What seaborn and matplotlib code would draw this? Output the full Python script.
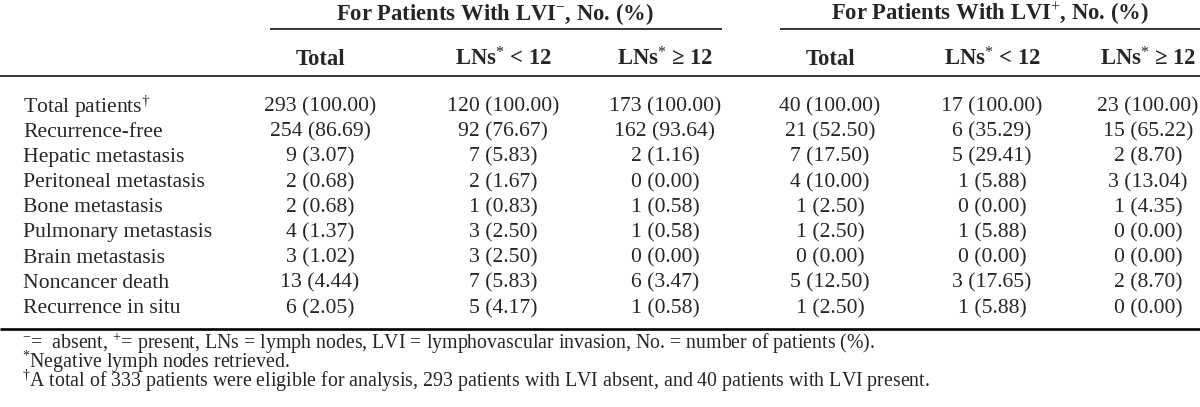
import matplotlib.pyplot as plt
import seaborn as sns

sns.set_theme(style="white")
plt.rcParams["font.family"] = ["Liberation Serif", "DejaVu Serif"]
plt.rcParams["mathtext.fontset"] = "custom"
plt.rcParams["mathtext.rm"] = "Liberation Serif"
plt.rcParams["mathtext.it"] = "Liberation Serif"
plt.rcParams["mathtext.bf"] = "Liberation Serif:bold"

# Table content ---------------------------------------------------------------
outcomes = [
    "Total patients$^{\\dagger}$",
    "Recurrence-free",
    "Hepatic metastasis",
    "Peritoneal metastasis",
    "Bone metastasis",
    "Pulmonary metastasis",
    "Brain metastasis",
    "Noncancer death",
    "Recurrence in situ",
]
group_labels = ["For Patients With LVI$^{-}$, No. (%)", "For Patients With LVI$^{+}$, No. (%)"]
col_labels = ["Total", "LNs$^{*}$ < 12", "LNs$^{*}$ \u2265 12"] * 2

neg_total_n = [293, 254, 9, 2, 2, 4, 3, 13, 6]
neg_total_pct = ["100.00", "86.69", "3.07", "0.68", "0.68", "1.37", "1.02", "4.44", "2.05"]
neg_lt12_n = [120, 92, 7, 2, 1, 3, 3, 7, 5]
neg_lt12_pct = ["100.00", "76.67", "5.83", "1.67", "0.83", "2.50", "2.50", "5.83", "4.17"]
neg_ge12_n = [173, 162, 2, 0, 1, 1, 0, 6, 1]
neg_ge12_pct = ["100.00", "93.64", "1.16", "0.00", "0.58", "0.58", "0.00", "3.47", "0.58"]
pos_total_n = [40, 21, 7, 4, 1, 1, 0, 5, 1]
pos_total_pct = ["100.00", "52.50", "17.50", "10.00", "2.50", "2.50", "0.00", "12.50", "2.50"]
pos_lt12_n = [17, 6, 5, 1, 0, 1, 0, 3, 1]
pos_lt12_pct = ["100.00", "35.29", "29.41", "5.88", "0.00", "5.88", "0.00", "17.65", "5.88"]
pos_ge12_n = [23, 15, 2, 3, 1, 0, 0, 2, 0]
pos_ge12_pct = ["100.00", "65.22", "8.70", "13.04", "4.35", "0.00", "0.00", "8.70", "0.00"]

footnotes = [
    "$^{-}$=  absent, $^{+}$= present, LNs = lymph nodes, LVI = lymphovascular invasion, No. = number of patients (%).",
    "$^{*}$Negative lymph nodes retrieved.",
    "$^{\\dagger}$A total of 333 patients were eligible for analysis, 293 patients with LVI absent, and 40 patients with LVI present.",
]

columns = [
    (neg_total_n, neg_total_pct),
    (neg_lt12_n, neg_lt12_pct),
    (neg_ge12_n, neg_ge12_pct),
    (pos_total_n, pos_total_pct),
    (pos_lt12_n, pos_lt12_pct),
    (pos_ge12_n, pos_ge12_pct),
]

# Layout (pixel coordinates, y downwards, text placed on baselines) -------------
W, H = 1200, 407
col_x = [320, 503, 665, 830, 992, 1148]
group_x = [495, 990]
group_span = [(270, 722), (780, 1200)]
row_base0, row_step = 111.5, 25.2
FS = 15.6
HEAD_FS = 16.3
NOTE_FS = 14.3


def math_shift(s):
    # mathtext strings sit a little higher than plain ones on the same baseline
    return 1 if "$" in s else 0


fig = plt.figure(figsize=(W / 100, H / 100), dpi=100)
ax = fig.add_axes([0, 0, 1, 1])
ax.set_xlim(0, W)
ax.set_ylim(H, 0)
ax.axis("off")

for gx, label, (x0, x1) in zip(group_x, group_labels, group_span):
    ax.text(gx, 20, label, ha="center", va="baseline", fontsize=HEAD_FS, fontweight="bold")
    ax.hlines(29, x0, x1, color="black", lw=1.1)

for cx, label in zip(col_x, col_labels):
    ax.text(cx, 65 + math_shift(label), label, ha="center", va="baseline",
            fontsize=HEAD_FS, fontweight="bold")

ax.hlines(76, 0, W, color="black", lw=1.1)

for i, outcome in enumerate(outcomes):
    y = row_base0 + i * row_step
    ax.text(23, y + math_shift(outcome), outcome, ha="left", va="baseline", fontsize=FS)
    for cx, (n, pct) in zip(col_x, columns):
        ax.text(cx, y, f"{n[i]} ({pct[i]})", ha="center", va="baseline", fontsize=FS)

ax.hlines(329, 0, W, color="black", lw=1.9)

for i, note in enumerate(footnotes):
    ax.text(22, 349 + i * 19, note, ha="left", va="baseline", fontsize=NOTE_FS)

fig.savefig("out.png", dpi=100)
